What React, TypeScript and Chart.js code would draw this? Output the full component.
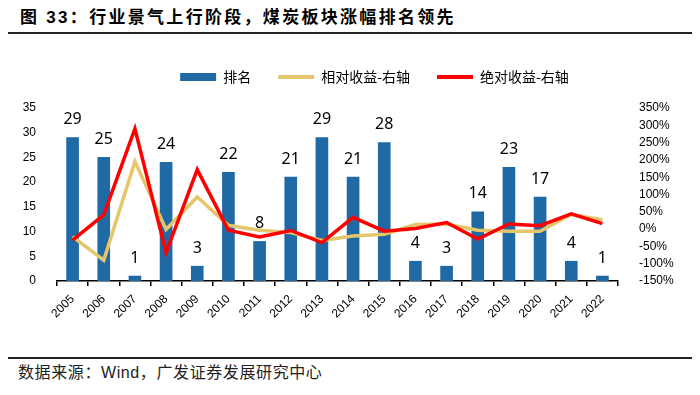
import React, { useEffect, useRef } from "react";
import { Chart, registerables } from "chart.js";

Chart.register(...registerables);

const years = [
  "2005", "2006", "2007", "2008", "2009", "2010", "2011", "2012", "2013",
  "2014", "2015", "2016", "2017", "2018", "2019", "2020", "2021", "2022",
];
const rankValues = [29, 25, 1, 24, 3, 22, 8, 21, 29, 21, 28, 4, 3, 14, 23, 17, 4, 1];
const relativeReturn = [-22, -90, 195, -1, 93, 11, -3, -10, -33, -20, -15, 13, 15, -3, -6, -6, 42, 27];
const absoluteReturn = [-32, 41, 290, -68, 172, -3, -23, -4, -39, 34, -6, 2, 19, -29, 15, 10, 44, 16];

const seriesNames = ["排名", "相对收益-右轴", "绝对收益-右轴"];
const leftAxis = { min: 0, max: 35, step: 5 };
const rightAxis = { min: -150, max: 350, step: 50 };

const titleText = "图 33：行业景气上行阶段，煤炭板块涨幅排名领先";
const sourceText = "数据来源：Wind，广发证券发展研究中心";

const BAR_COLOR = "#1F69A5";
const REL_COLOR = "#E5C66B";
const ABS_COLOR = "#FF0000";

const legendSpacing = {
  id: "legendSpacing",
  beforeInit(chart: any) {
    const legend = chart.legend;
    if (!legend) return;
    const origFit = legend.fit;
    legend.fit = function () {
      origFit.call(this);
      this.height += 14;
    };
  },
  afterLayout(chart: any) {
    if (chart.legend) {
      chart.legend.left += 49;
    }
  },
};

const barLabels = {
  id: "barLabels",
  afterDatasetsDraw(chart: any) {
    const ctx = chart.ctx;
    const meta = chart.getDatasetMeta(0);
    ctx.save();
    ctx.font = "16px 'Noto Sans', 'Liberation Sans', sans-serif";
    ctx.fillStyle = "#000";
    ctx.textAlign = "center";
    ctx.textBaseline = "middle";
    meta.data.forEach((el: any, i: number) => {
      ctx.fillText(String(rankValues[i]), el.x, el.y - 18);
    });
    ctx.restore();
  },
};

function ChartCanvas() {
  const ref = useRef<HTMLCanvasElement | null>(null);
  useEffect(() => {
    if (!ref.current) return;
    const chart = new Chart(ref.current, {
      type: "bar",
      data: {
        labels: years,
        datasets: [
          {
            type: "bar",
            label: seriesNames[0],
            data: rankValues,
            backgroundColor: BAR_COLOR,
            borderWidth: 0,
            barThickness: 12,
            yAxisID: "y",
            order: 3,
          },
          {
            type: "line",
            label: seriesNames[1],
            data: relativeReturn,
            borderColor: REL_COLOR,
            backgroundColor: REL_COLOR,
            borderWidth: 3.5,
            pointRadius: 0,
            tension: 0,
            yAxisID: "y1",
            order: 2,
          },
          {
            type: "line",
            label: seriesNames[2],
            data: absoluteReturn,
            borderColor: ABS_COLOR,
            backgroundColor: ABS_COLOR,
            borderWidth: 3.5,
            pointRadius: 0,
            tension: 0,
            yAxisID: "y1",
            order: 1,
          },
        ] as any,
      },
      options: {
        animation: false,
        responsive: false,
        devicePixelRatio: 1,
        layout: { padding: { left: 0, right: 0, top: 0, bottom: 22 } },
        plugins: {
          tooltip: { enabled: false },
          legend: {
            display: true,
            position: "top",
            labels: {
              usePointStyle: true,
              pointStyleWidth: 36,
              boxHeight: 8,
              padding: 27,
              color: "#000",
              font: { size: 14, family: "'Noto Sans CJK SC', sans-serif" },
              sort: (a: any, b: any) => a.datasetIndex - b.datasetIndex,
              generateLabels: (chart: any) => {
                const items = Chart.defaults.plugins.legend.labels.generateLabels(chart);
                return items.map((it: any) => {
                  if (it.datasetIndex === 0) {
                    return { ...it, pointStyle: "rect", lineWidth: 0, fillStyle: BAR_COLOR, strokeStyle: BAR_COLOR };
                  }
                  const c = it.datasetIndex === 1 ? REL_COLOR : ABS_COLOR;
                  return { ...it, pointStyle: "line", lineWidth: 4, strokeStyle: c, fillStyle: c };
                });
              },
            },
          },
        },
        scales: {
          x: {
            offset: true,
            grid: {
              display: true,
              drawOnChartArea: false,
              drawTicks: true,
              tickLength: 5,
              color: "#000",
              lineWidth: 1.5,
              offset: true,
            },
            border: { display: true, color: "#000", width: 1.5 },
            ticks: {
              maxRotation: 45,
              minRotation: 45,
              autoSkip: false,
              padding: 6,
              color: "#000",
              font: { size: 12, family: "'Liberation Sans', Arial, sans-serif" },
            },
            afterFit: (scale: any) => {
              scale.height = 40;
            },
          },
          y: {
            position: "left",
            min: leftAxis.min,
            max: leftAxis.max,
            grid: { display: false },
            border: { display: false },
            ticks: {
              stepSize: leftAxis.step,
              autoSkip: false,
              padding: 13,
              color: "#000",
              font: { size: 12, family: "'Liberation Sans', Arial, sans-serif" },
            },
            afterFit: (scale: any) => {
              scale.width = 57;
            },
          },
          y1: {
            position: "right",
            min: rightAxis.min,
            max: rightAxis.max,
            grid: { display: false },
            border: { display: false },
            ticks: {
              stepSize: rightAxis.step,
              autoSkip: false,
              padding: 13,
              color: "#000",
              font: { size: 12, family: "'Liberation Sans', Arial, sans-serif" },
              callback: (v: any) => `${v}%`,
            },
            afterFit: (scale: any) => {
              scale.width = 82;
            },
          },
        },
      } as any,
      plugins: [legendSpacing, barLabels],
    });
    return () => chart.destroy();
  }, []);
  return (
    <canvas
      ref={ref}
      width={700}
      height={300}
      style={{ position: "absolute", left: 0, top: 43, width: 700, height: 300 }}
    />
  );
}

export default function App() {
  return (
    <div
      style={{
        position: "absolute",
        left: 0,
        top: 0,
        width: 700,
        height: 395,
        background: "#fff",
        overflow: "hidden",
      }}
    >
      <div
        style={{
          position: "absolute",
          left: 20,
          top: 6,
          fontFamily: "'Liberation Sans', 'Noto Sans CJK SC', sans-serif",
          fontWeight: 700,
          fontSize: 17,
          letterSpacing: 2.3,
          lineHeight: "24px",
          color: "#000",
          whiteSpace: "pre",
        }}
      >
        {titleText}
      </div>
      <div style={{ position: "absolute", left: 8, top: 32, width: 684, height: 2, background: "#222" }} />
      <ChartCanvas />
      <div style={{ position: "absolute", left: 8, top: 357, width: 684, height: 1.5, background: "#222" }} />
      <div
        style={{
          position: "absolute",
          left: 18,
          top: 362,
          fontFamily: "'Liberation Sans', 'Noto Sans CJK SC', sans-serif",
          fontSize: 16,
          letterSpacing: 0.6,
          lineHeight: "22px",
          color: "#222",
          whiteSpace: "pre",
        }}
      >
        {sourceText}
      </div>
    </div>
  );
}
